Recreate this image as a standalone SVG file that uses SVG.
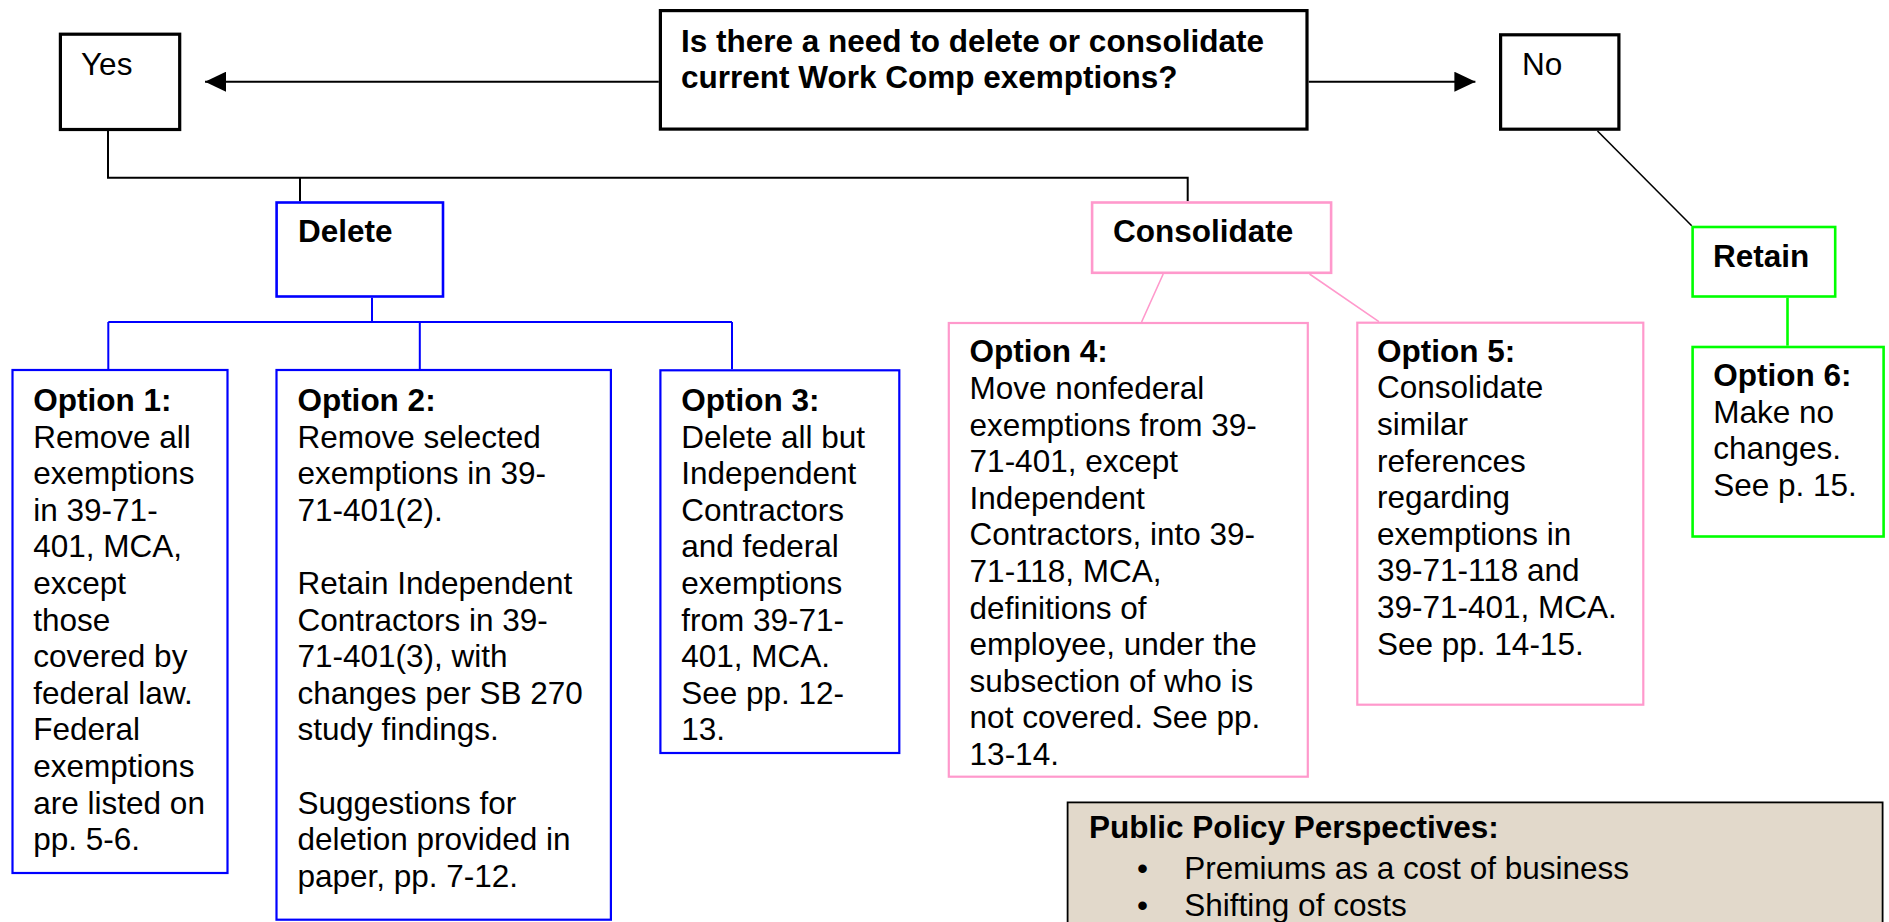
<svg xmlns="http://www.w3.org/2000/svg" width="1889" height="922" viewBox="0 0 1889 922">
<style>
text{font-family:"Liberation Sans",Arial,sans-serif;font-size:31.5px;fill:#000}
.b{font-weight:bold}
.k{fill:#fff;stroke:#000;stroke-width:3.2}
.bl{fill:#fff;stroke:#0000ff;stroke-width:2.2}
.pk{fill:#fff;stroke:#ff99cc;stroke-width:2.2}
.gr{fill:#fff;stroke:#00ff00;stroke-width:2.6}
.ck{fill:none;stroke:#000;stroke-width:2}
.cb{fill:none;stroke:#0000ff;stroke-width:2}
.cp{fill:none;stroke:#ff99cc;stroke-width:1.6}
.cg{fill:none;stroke:#00ff00;stroke-width:2.6}
</style>
<defs>
<marker id="arr" markerUnits="userSpaceOnUse" markerWidth="21" markerHeight="20" refX="21" refY="10" orient="auto">
<path d="M0,0 L21,10 L0,20 z" fill="#000"/>
</marker>
</defs>
<g id="connectors">
<path class="ck" d="M658.8,81.7 H205" marker-end="url(#arr)"/>
<path class="ck" d="M1308.7,81.7 H1475.4" marker-end="url(#arr)"/>
<path class="ck" d="M108,131 V177.7 H1187.7 V201.3 M300,177.7 V201.3"/>
<path class="ck" style="stroke-width:1.6" d="M1597.5,131 L1691.7,225.7"/>
<path class="cb" d="M372,297.7 V322 M108.3,322 H732 M108.3,322 V369 M419.8,322 V369 M732,322 V369.3"/>
<path class="cp" d="M1163.2,274 L1141.6,322 M1309.5,274 L1378.9,321.7"/>
<path class="cg" d="M1787.5,297.7 V345.7"/>
</g>
<g id="question">
<rect class="k" x="660.4" y="10.6" width="646.6" height="118.5"/>
<text class="b"><tspan x="681" y="51.7">Is there a need to delete or consolidate</tspan><tspan x="681" y="88.3">current Work Comp exemptions?</tspan></text>
</g>
<g id="yes">
<rect class="k" x="60.4" y="34.2" width="119.3" height="95.3"/>
<text x="81" y="75">Yes</text>
</g>
<g id="no">
<rect class="k" x="1500.6" y="34.8" width="118.3" height="94.4"/>
<text x="1522" y="75">No</text>
</g>
<g id="delete">
<rect class="bl" x="276.6" y="202.5" width="166.4" height="94" style="stroke-width:2.6"/>
<text class="b" x="298" y="242.3">Delete</text>
</g>
<g id="consolidate">
<rect class="pk" x="1092.1" y="202.5" width="239" height="70.3" style="stroke-width:2.6"/>
<text class="b" x="1113" y="242.3">Consolidate</text>
</g>
<g id="retain">
<rect class="gr" x="1692.6" y="227" width="142.6" height="69.5"/>
<text class="b" x="1713" y="266.7">Retain</text>
</g>
<g id="option1">
<rect class="bl" x="12.5" y="370" width="215" height="503"/>
<text><tspan class="b" x="33.3" y="411">Option 1:</tspan><tspan x="33.3" dy="36.6">Remove all</tspan><tspan x="33.3" dy="36.6">exemptions</tspan><tspan x="33.3" dy="36.6">in 39-71-</tspan><tspan x="33.3" dy="36.6">401, MCA,</tspan><tspan x="33.3" dy="36.6">except</tspan><tspan x="33.3" dy="36.6">those</tspan><tspan x="33.3" dy="36.6">covered by</tspan><tspan x="33.3" dy="36.6">federal law.</tspan><tspan x="33.3" dy="36.6">Federal</tspan><tspan x="33.3" dy="36.6">exemptions</tspan><tspan x="33.3" dy="36.6">are listed on</tspan><tspan x="33.3" dy="36.6">pp. 5-6.</tspan></text>
</g>
<g id="option2">
<rect class="bl" x="276.5" y="370" width="334.4" height="549.7"/>
<text><tspan class="b" x="297.4" y="411">Option 2:</tspan><tspan x="297.4" dy="36.6">Remove selected</tspan><tspan x="297.4" dy="36.6">exemptions in 39-</tspan><tspan x="297.4" dy="36.6">71-401(2).</tspan><tspan x="297.4" dy="73.2">Retain Independent</tspan><tspan x="297.4" dy="36.6">Contractors in 39-</tspan><tspan x="297.4" dy="36.6">71-401(3), with</tspan><tspan x="297.4" dy="36.6">changes per SB 270</tspan><tspan x="297.4" dy="36.6">study findings.</tspan><tspan x="297.4" dy="73.2">Suggestions for</tspan><tspan x="297.4" dy="36.6">deletion provided in</tspan><tspan x="297.4" dy="36.6">paper, pp. 7-12.</tspan></text>
</g>
<g id="option3">
<rect class="bl" x="660.4" y="370.3" width="238.9" height="382.7"/>
<text><tspan class="b" x="681.2" y="411">Option 3:</tspan><tspan x="681.2" dy="36.6">Delete all but</tspan><tspan x="681.2" dy="36.6">Independent</tspan><tspan x="681.2" dy="36.6">Contractors</tspan><tspan x="681.2" dy="36.6">and federal</tspan><tspan x="681.2" dy="36.6">exemptions</tspan><tspan x="681.2" dy="36.6">from 39-71-</tspan><tspan x="681.2" dy="36.6">401, MCA.</tspan><tspan x="681.2" dy="36.6">See pp. 12-</tspan><tspan x="681.2" dy="36.6">13.</tspan></text>
</g>
<g id="option4">
<rect class="pk" x="948.8" y="323" width="359" height="453.7"/>
<text><tspan class="b" x="969.6" y="362.3">Option 4:</tspan><tspan x="969.6" dy="36.6">Move nonfederal</tspan><tspan x="969.6" dy="36.6">exemptions from 39-</tspan><tspan x="969.6" dy="36.6">71-401, except</tspan><tspan x="969.6" dy="36.6">Independent</tspan><tspan x="969.6" dy="36.6">Contractors, into 39-</tspan><tspan x="969.6" dy="36.6">71-118, MCA,</tspan><tspan x="969.6" dy="36.6">definitions of</tspan><tspan x="969.6" dy="36.6">employee, under the</tspan><tspan x="969.6" dy="36.6">subsection of who is</tspan><tspan x="969.6" dy="36.6">not covered. See pp.</tspan><tspan x="969.6" dy="36.6">13-14.</tspan></text>
</g>
<g id="option5">
<rect class="pk" x="1357.3" y="322.7" width="286" height="382"/>
<text><tspan class="b" x="1377" y="361.7">Option 5:</tspan><tspan x="1377" dy="36.6">Consolidate</tspan><tspan x="1377" dy="36.6">similar</tspan><tspan x="1377" dy="36.6">references</tspan><tspan x="1377" dy="36.6">regarding</tspan><tspan x="1377" dy="36.6">exemptions in</tspan><tspan x="1377" dy="36.6">39-71-118 and</tspan><tspan x="1377" dy="36.6">39-71-401, MCA.</tspan><tspan x="1377" dy="36.6">See pp. 14-15.</tspan></text>
</g>
<g id="option6">
<rect class="gr" x="1692.6" y="347" width="191" height="189.5"/>
<text><tspan class="b" x="1713.2" y="386">Option 6:</tspan><tspan x="1713.2" dy="36.6">Make no</tspan><tspan x="1713.2" dy="36.6">changes.</tspan><tspan x="1713.2" dy="36.6">See p. 15.</tspan></text>
</g>
<g id="policy">
<rect x="1067.6" y="802.4" width="815" height="140" fill="#e2d9cb" stroke="#000" stroke-width="1.8"/>
<text class="b" x="1089" y="838.3">Public Policy Perspectives:</text>
<text x="1137" y="879">•</text>
<text x="1184.3" y="879">Premiums as a cost of business</text>
<text x="1137" y="916">•</text>
<text x="1184.3" y="916">Shifting of costs</text>
</g>
</svg>
